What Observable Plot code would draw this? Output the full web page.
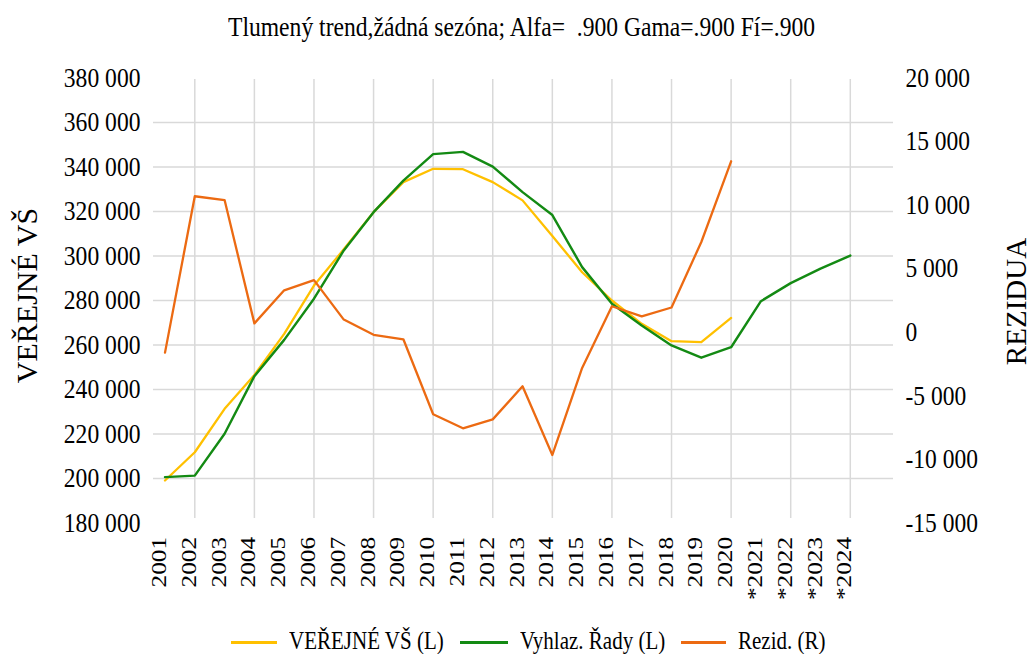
<!DOCTYPE html>
<html>
<head>
<meta charset="utf-8">
<script src="https://cdn.jsdelivr.net/npm/d3@7"></script>
<script src="https://cdn.jsdelivr.net/npm/@observablehq/plot@0.6"></script>
<style>
  body { margin: 0; background: #fff; font-family: "Liberation Serif", "Times New Roman", serif; color: #000; }
  #wrap { position: relative; width: 1032px; height: 654px; overflow: hidden; background: #fff; }
  #title { position: absolute; left: 228px; top: 14px; font-size: 23.6px; line-height: 26px; white-space: pre; transform: scaleY(1.12); transform-origin: 0 50%; }
  #chart { position: absolute; left: 0; top: 52px; }
  .sw { position: absolute; height: 2.5px; top: 641px; }
  .lt { position: absolute; font-size: 21px; line-height: 21px; top: 631px; white-space: pre; transform: scaleY(1.18); transform-origin: 0 55%; }
</style>
</head>
<body>
<div id="wrap">
  <div id="title"></div>
  <div id="chart"></div>
  <div id="legend"></div>
</div>
<script>
// ---- data ----
const years = ["2001","2002","2003","2004","2005","2006","2007","2008","2009","2010",
               "2011","2012","2013","2014","2015","2016","2017","2018","2019","2020",
               "*2021","*2022","*2023","*2024"];
const verejneVS = [199100, 211800, 231300, 246500, 265000, 286700, 303000, 319700, 333200, 339200,
                   339000, 333200, 325000, 309000, 292700, 280000, 269500, 261700, 261300, 272200];
const vyhlazRady = [200600, 201300, 220100, 246000, 262300, 280800, 302500, 319700, 333900, 345800,
                    346800, 340200, 328700, 318400, 295000, 278500, 268800, 259800, 254300, 259000,
                    279700, 287800, 294300, 300200];
const rezid = [-1600, 10700, 10400, 700, 3300, 4100, 1000, -200, -550, -6450,
               -7550, -6850, -4250, -9650, -2800, 2050, 1250, 1950, 7100, 13450];
const leftTicks = [180000, 200000, 220000, 240000, 260000, 280000, 300000, 320000, 340000, 360000, 380000];
const rightTicks = [-15000, -10000, -5000, 0, 5000, 10000, 15000, 20000];
const seriesNames = ["VEŘEJNÉ VŠ (L)", "Vyhlaz. Řady (L)", "Rezid. (R)"];
const colors = ["#FFC000", "#138A13", "#EC6A12"];
const title = "Tlumený trend,žádná sezóna; Alfa=  .900 Gama=.900 Fí=.900";
const leftTitle = "VEŘEJNÉ VŠ";
const rightTitle = "REZIDUA";

document.getElementById("title").textContent = title;

// ---- helpers ----
const L_MIN = leftTicks[0], L_MAX = leftTicks[leftTicks.length - 1];
const R_MIN = rightTicks[0], R_MAX = rightTicks[rightTicks.length - 1];
const toL = r => L_MIN + (r - R_MIN) * (L_MAX - L_MIN) / (R_MAX - R_MIN);
const toR = l => R_MIN + (l - L_MIN) * (R_MAX - R_MIN) / (L_MAX - L_MIN);
const fmt = v => d3.format(",")(Math.round(v)).replace(/,/g, " ").replace("\u2212", "-");

const tVer = verejneVS.map((v, i) => ({i, v}));
const tVyh = vyhlazRady.map((v, i) => ({i, v}));
const tRez = rezid.map((r, i) => ({i, v: toL(r)}));
const labels = years.map((y, i) => ({i, y}));
const evenIdx = years.map((y, i) => i).filter(i => i % 2 === 1);
const gridVals = leftTicks.slice(1, -1);

const font = '"Liberation Serif", "Times New Roman", serif';

const chart = Plot.plot({
  width: 1032,
  height: 560,
  marginTop: 25.5,
  marginBottom: 89.5,
  marginLeft: 153,
  marginRight: 139,
  style: {fontFamily: font, fontSize: "23.5px", color: "#000", background: "#fff", overflow: "visible"},
  x: {type: "linear", domain: [-0.386, 24.45], axis: null},
  y: {type: "linear", domain: [L_MIN, L_MAX], axis: null},
  marks: [
    Plot.gridY(gridVals, {stroke: "#d9d9d9", strokeOpacity: 1, strokeWidth: 1.5}),
    Plot.gridX(evenIdx, {stroke: "#d9d9d9", strokeOpacity: 1, strokeWidth: 1.5, insetTop: 1.5, insetBottom: 4.5}),
    Plot.axisY(leftTicks, {anchor: "left", label: null, tickSize: 0, tickPadding: 13, tickFormat: fmt, fontSize: 23.6}),
    Plot.axisY(rightTicks.map(toL), {anchor: "right", label: null, tickSize: 0, tickPadding: 12, tickFormat: d => fmt(toR(d)), fontSize: 23.5}),
    Plot.text(labels, {x: "i", text: "y", frameAnchor: "bottom", rotate: -90, textAnchor: "end", dy: 14, dx: 1, fontSize: 21, fill: "#000"}),
    Plot.text([leftTitle], {frameAnchor: "left", rotate: -90, textAnchor: "middle", dx: -126, dy: -5, fontSize: 30, fill: "#000"}),
    Plot.text([rightTitle], {frameAnchor: "right", rotate: -90, textAnchor: "middle", dx: 123, dy: 1, fontSize: 29, fill: "#000"}),
    Plot.line(tVer, {x: "i", y: "v", stroke: colors[0], strokeWidth: 2.3, strokeLinejoin: "round"}),
    Plot.line(tVyh, {x: "i", y: "v", stroke: colors[1], strokeWidth: 2.4, strokeLinejoin: "round"}),
    Plot.line(tRez, {x: "i", y: "v", stroke: colors[2], strokeWidth: 2.3, strokeLinejoin: "round"})
  ]
});

// stretch text like the reference rendering (taller glyphs)
chart.querySelectorAll('g[aria-label="y-axis tick label"] text').forEach(t => {
  t.setAttribute("transform", (t.getAttribute("transform") || "") + " scale(1,1.15)");
});
const textGroups = chart.querySelectorAll('g[aria-label="text"]');
if (textGroups.length) {
  textGroups[0].querySelectorAll("text").forEach(t => {
    t.setAttribute("transform", (t.getAttribute("transform") || "") + " scale(1.2,1)");
  });
}
document.getElementById("chart").appendChild(chart);

// ---- legend ----
const legend = document.getElementById("legend");
const swX = [231, 460, 681], swW = [46, 48, 45], txX = [289, 520, 738];
seriesNames.forEach((name, k) => {
  const s = document.createElement("div");
  s.className = "sw";
  s.style.left = swX[k] + "px";
  s.style.width = swW[k] + "px";
  s.style.background = colors[k];
  legend.appendChild(s);
  const t = document.createElement("div");
  t.className = "lt";
  t.style.left = txX[k] + "px";
  t.textContent = name;
  legend.appendChild(t);
});
</script>
</body>
</html>
